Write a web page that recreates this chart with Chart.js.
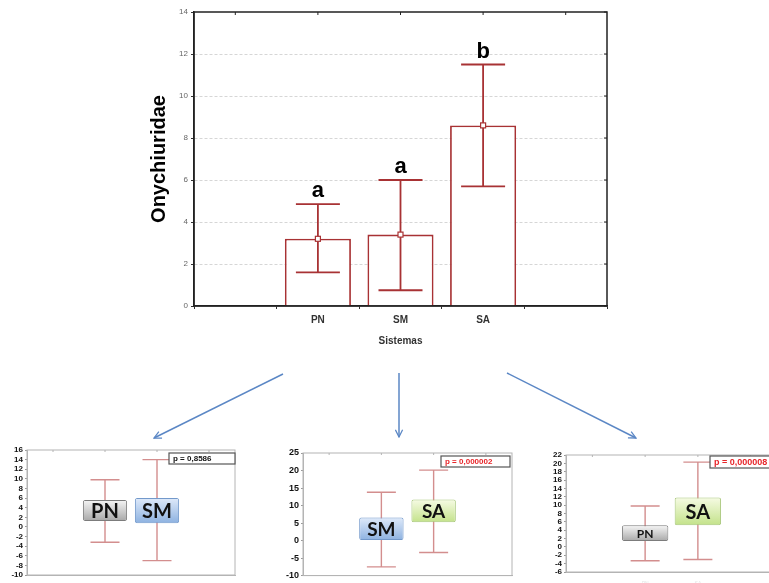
<!DOCTYPE html>
<html>
<head>
<meta charset="utf-8">
<title>Onychiuridae por sistema</title>
<script src="https://cdn.jsdelivr.net/npm/chart.js@4/dist/chart.umd.min.js"></script>
<style>
  html, body { margin: 0; padding: 0; background: #fff; }
  #page { position: relative; width: 769px; height: 583px; overflow: hidden; background: #fff; }
  #page canvas, #page svg { position: absolute; }
</style>
</head>
<body>
<div id="page">
  <canvas id="main-chart" width="480" height="360" style="left:140px;top:0"></canvas>
  <svg width="769" height="583" style="left:0;top:0">
    <defs>
      <marker id="head" viewBox="0 0 10 10" refX="9" refY="5" markerWidth="6" markerHeight="6" orient="auto">
        <path d="M1,1 L9,5 L1,9" fill="none" stroke="#5b87c5" stroke-width="1.4"/>
      </marker>
    </defs>
    <g stroke="#5b87c5" stroke-width="1.5" fill="none">
      <line x1="283" y1="374" x2="154" y2="438" marker-end="url(#head)"/>
      <line x1="399" y1="373" x2="399" y2="437" marker-end="url(#head)"/>
      <line x1="507" y1="373" x2="636" y2="438" marker-end="url(#head)"/>
    </g>
  </svg>
  <canvas id="pair-pn-sm" width="250" height="143" style="left:0;top:440px"></canvas>
  <canvas id="pair-sm-sa" width="250" height="143" style="left:280px;top:440px"></canvas>
  <canvas id="pair-pn-sa" width="250" height="143" style="left:530px;top:440px"></canvas>
</div>
<script>
// Onychiuridae per system: mean with confidence interval
const sistemas = [' ', 'PN', 'SM', 'SA', '  '];
const onyMeans = [null, 3.2, 3.4, 8.6, null];
const onyLow = [null, 1.6, 0.75, 5.7, null];
const onyHigh = [null, 4.85, 6.0, 11.5, null];
const onyLetters = ['', 'a', 'a', 'b', ''];

// pairwise comparisons
const pnSmCats = [' ', 'PN', 'SM', '  '];
const pnSmBoxLow = [null, 1.25, 0.75, null];
const pnSmBoxHigh = [null, 5.6, 6.0, null];
const pnSmWhiskLow = [null, -3.2, -7.0, null];
const pnSmWhiskHigh = [null, 9.8, 14.0, null];
const pnSmP = 'p = 0,8586';

const smSaCats = [' ', 'SM', 'SA', '  '];
const smSaBoxLow = [null, 0.0, 5.2, null];
const smSaBoxHigh = [null, 6.6, 11.7, null];
const smSaWhiskLow = [null, -7.5, -3.4, null];
const smSaWhiskHigh = [null, 13.8, 20.1, null];
const smSaP = 'p = 0,000002';

const pnSaCats = [' ', 'PN', 'SA', '  '];
const pnSaBoxLow = [null, 1.4, 5.2, null];
const pnSaBoxHigh = [null, 5.2, 11.85, null];
const pnSaWhiskLow = [null, -3.3, -3.0, null];
const pnSaWhiskHigh = [null, 9.8, 20.3, null];
const pnSaP = 'p = 0,000008';

const RED = '#a83234';

function drawWhiskers(chart, o) {
  const { ctx, scales: { x, y } } = chart;
  ctx.save();
  ctx.strokeStyle = o.color;
  ctx.lineWidth = o.width;
  o.low.forEach((lo, i) => {
    const hi = o.high[i];
    if (lo == null || hi == null) return;
    const px = x.getPixelForValue(i);
    const yLo = y.getPixelForValue(lo);
    const yHi = y.getPixelForValue(hi);
    const h = o.cap / 2;
    ctx.beginPath();
    ctx.moveTo(px, yLo); ctx.lineTo(px, yHi);
    ctx.moveTo(px - h, yLo); ctx.lineTo(px + h, yLo);
    ctx.moveTo(px - h, yHi); ctx.lineTo(px + h, yHi);
    ctx.stroke();
  });
  ctx.restore();
}

const whiskerPlugin = {
  id: 'whiskers',
  beforeDatasetsDraw(chart, args, o) { if (o.under) drawWhiskers(chart, o); },
  afterDatasetsDraw(chart, args, o) { if (!o.under) drawWhiskers(chart, o); }
};

// box around the plot area, with short ticks inside the top (and right) edge
const framePlugin = {
  id: 'frame',
  afterDraw(chart, args, o) {
    const { ctx, chartArea: a, scales: { x, y } } = chart;
    ctx.save();
    ctx.strokeStyle = o.color;
    ctx.lineWidth = o.width;
    ctx.strokeRect(a.left, a.top, a.right - a.left, a.bottom - a.top);
    ctx.lineWidth = 1;
    ctx.beginPath();
    x.ticks.forEach((t, i) => {
      const px = x.getPixelForTick(i);
      ctx.moveTo(px, a.top); ctx.lineTo(px, a.top + o.tick);
    });
    if (o.right) {
      y.ticks.forEach((t, i) => {
        const py = y.getPixelForTick(i);
        ctx.moveTo(a.right, py); ctx.lineTo(a.right - o.tick, py);
      });
    }
    ctx.stroke();
    ctx.restore();
  }
};

// mean marker and group letters over each bar
const lettersPlugin = {
  id: 'letters',
  afterDatasetsDraw(chart) {
    const { ctx, scales: { x, y } } = chart;
    ctx.save();
    onyMeans.forEach((m, i) => {
      if (m == null) return;
      const px = x.getPixelForValue(i);
      const py = y.getPixelForValue(m);
      ctx.fillStyle = '#fff';
      ctx.strokeStyle = RED;
      ctx.lineWidth = 1.2;
      ctx.fillRect(px - 2.5, py - 2.5, 5, 5);
      ctx.strokeRect(px - 2.5, py - 2.5, 5, 5);
      ctx.fillStyle = '#000';
      ctx.font = 'bold 22px Arial, "Liberation Sans"';
      ctx.textAlign = 'center';
      ctx.textBaseline = 'alphabetic';
      ctx.fillText(onyLetters[i], px, y.getPixelForValue(onyHigh[i]) - 7);
    });
    ctx.restore();
  }
};

new Chart(document.getElementById('main-chart').getContext('2d'), {
  type: 'bar',
  data: {
    labels: sistemas,
    datasets: [{
      data: onyMeans,
      backgroundColor: '#fff',
      borderColor: RED,
      borderWidth: 1.8,
      barPercentage: 0.8,
      categoryPercentage: 1.0
    }]
  },
  options: {
    responsive: false,
    animation: false,
    layout: { padding: { left: 7, top: 12, right: 13, bottom: 0 } },
    plugins: {
      legend: { display: false },
      tooltip: { enabled: false },
      whiskers: { low: onyLow, high: onyHigh, color: RED, width: 1.8, cap: 44, under: false },
      frame: { color: '#222', width: 1.5, tick: 3, right: true }
    },
    scales: {
      x: {
        grid: { color: 'transparent', drawOnChartArea: false, tickLength: 3, tickColor: '#333' },
        border: { color: '#222', width: 1.5 },
        ticks: { color: '#333', padding: 5, font: { family: 'Arial', size: 10, weight: 'bold' } },
        title: {
          display: true, text: 'Sistemas', color: '#333',
          font: { family: 'Arial', size: 10, weight: 'bold' },
          padding: { top: 0, bottom: 13 }
        },
        afterFit(s) { s.height = 54; }
      },
      y: {
        min: 0, max: 14,
        ticks: { stepSize: 2, color: '#666', padding: 3, font: { family: 'Arial', size: 8 } },
        grid: {
          color: c => (c.tick && (c.tick.value === 0 || c.tick.value === 14)) ? 'transparent' : '#d6d6d6',
          tickLength: 3, tickColor: '#333', tickBorderDash: []
        },
        border: { color: '#222', width: 1.5, dash: [3, 2] },
        title: {
          display: true, text: 'Onychiuridae', color: '#000',
          font: { family: 'Arial', size: 20, weight: 'bold' },
          padding: 0
        },
        afterFit(s) { s.width = 47; }
      }
    }
  },
  plugins: [whiskerPlugin, lettersPlugin, framePlugin]
});

// pairwise panels
const boxShades = {
  PN: ['#f6f6f6', '#a8a8a8'],
  SM: ['#dfeafa', '#8cb1e0'],
  SA: ['#f6fbe4', '#c3e28a']
};
const boxEdges = { PN: '#7c7c7c', SM: '#7399cb', SA: '#a7c67a' };

function boxFill(c) {
  const { chart, dataIndex, raw } = c;
  const shade = boxShades[chart.data.labels[dataIndex]];
  if (!shade || !raw || !chart.chartArea) return shade ? shade[1] : 'transparent';
  const y = chart.scales.y;
  const g = chart.ctx.createLinearGradient(0, y.getPixelForValue(raw[1]), 0, y.getPixelForValue(raw[0]));
  g.addColorStop(0, shade[0]);
  g.addColorStop(1, shade[1]);
  return g;
}

const boxLabelPlugin = {
  id: 'boxLabels',
  afterDatasetsDraw(chart, args, o) {
    const { ctx } = chart;
    const meta = chart.getDatasetMeta(0);
    ctx.save();
    ctx.fillStyle = '#111';
    ctx.textAlign = 'center';
    ctx.textBaseline = 'middle';
    meta.data.forEach((bar, i) => {
      if (!chart.data.datasets[0].data[i]) return;
      const { x, y, base } = bar.getProps(['x', 'y', 'base'], true);
      ctx.font = `bold ${o.sizes[i]}px Lato, "Open Sans", sans-serif`;
      ctx.fillText(chart.data.labels[i], x, (y + base) / 2 + 1);
    });
    ctx.restore();
  }
};

const pBoxPlugin = {
  id: 'pBox',
  afterDraw(chart, args, o) {
    const { ctx } = chart;
    ctx.save();
    ctx.fillStyle = '#fff';
    ctx.fillRect(o.x, o.y, o.w, o.h);
    ctx.strokeStyle = '#555';
    ctx.lineWidth = 1.2;
    ctx.strokeRect(o.x, o.y, o.w, o.h);
    ctx.fillStyle = o.color;
    ctx.font = `bold ${o.size}px Arial`;
    ctx.textBaseline = 'middle';
    ctx.fillText(o.text, o.x + 4, o.y + o.h / 2 + 0.5);
    ctx.restore();
  }
};

function pairChart(id, p) {
  return new Chart(document.getElementById(id).getContext('2d'), {
    type: 'bar',
    data: {
      labels: p.cats,
      datasets: [{
        data: p.boxLow.map((v, i) => (v == null ? null : [v, p.boxHigh[i]])),
        backgroundColor: boxFill,
        borderColor: c => boxEdges[c.chart.data.labels[c.dataIndex]] || '#888',
        borderWidth: 1,
        borderRadius: 2,
        borderSkipped: false,
        barPercentage: p.barPct,
        categoryPercentage: 1.0
      }]
    },
    options: {
      responsive: false,
      animation: false,
      layout: { padding: p.pad },
      plugins: {
        legend: { display: false },
        tooltip: { enabled: false },
        whiskers: { low: p.whiskLow, high: p.whiskHigh, color: '#d38e8e', width: 1.4, cap: 29, under: true },
        frame: { color: '#b4b4b4', width: 1, tick: 2, right: false },
        boxLabels: { sizes: p.labelSizes },
        pBox: p.pBox
      },
      scales: {
        x: {
          grid: { display: false },
          border: { color: '#b4b4b4' },
          ticks: { color: '#e4e4e4', padding: 1, font: { family: 'Arial', size: 5 } },
          afterFit(s) { s.height = p.xHeight; }
        },
        y: {
          min: p.yMin, max: p.yMax,
          ticks: {
            stepSize: p.step, autoSkip: false, color: '#111', padding: 2,
            font: { family: 'Arial', size: p.yFont, weight: 'bold' }
          },
          grid: { drawOnChartArea: false, tickLength: 2, tickColor: '#999' },
          border: { color: '#b4b4b4' },
          afterFit(s) { s.width = p.yWidth; }
        }
      }
    },
    plugins: [whiskerPlugin, boxLabelPlugin, framePlugin, pBoxPlugin]
  });
}

pairChart('pair-pn-sm', {
  cats: pnSmCats, boxLow: pnSmBoxLow, boxHigh: pnSmBoxHigh,
  whiskLow: pnSmWhiskLow, whiskHigh: pnSmWhiskHigh,
  yMin: -10, yMax: 16, step: 2, yFont: 8,
  pad: { left: 0, top: 10, right: 15, bottom: 0 }, yWidth: 27, xHeight: 8,
  barPct: 0.85, labelSizes: [0, 20, 20, 0],
  pBox: { text: pnSmP, color: '#111', size: 8, x: 169, y: 13, w: 66, h: 11 }
});

pairChart('pair-sm-sa', {
  cats: smSaCats, boxLow: smSaBoxLow, boxHigh: smSaBoxHigh,
  whiskLow: smSaWhiskLow, whiskHigh: smSaWhiskHigh,
  yMin: -10, yMax: 25, step: 5, yFont: 9,
  pad: { left: 0, top: 13, right: 18, bottom: 0 }, yWidth: 23, xHeight: 6,
  barPct: 0.85, labelSizes: [0, 19, 19, 0],
  pBox: { text: smSaP, color: '#e8262a', size: 8, x: 161, y: 16, w: 69, h: 11 }
});

pairChart('pair-pn-sa', {
  cats: pnSaCats, boxLow: pnSaBoxLow, boxHigh: pnSaBoxHigh,
  whiskLow: pnSaWhiskLow, whiskHigh: pnSaWhiskHigh,
  yMin: -6, yMax: 22, step: 2, yFont: 8,
  pad: { left: 0, top: 15, right: 3, bottom: 0 }, yWidth: 36, xHeight: 11,
  barPct: 0.88, labelSizes: [0, 12, 20, 0],
  pBox: { text: pnSaP, color: '#e8262a', size: 9, x: 180, y: 16, w: 70, h: 12 }
});
</script>
</body>
</html>
